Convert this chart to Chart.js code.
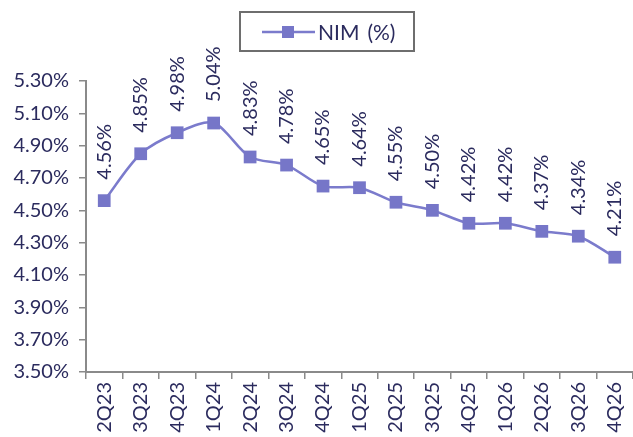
<!DOCTYPE html>
<html>
<head>
<meta charset="utf-8">
<script src="https://cdn.jsdelivr.net/npm/chart.js@4/dist/chart.umd.min.js"></script>
<style>
html,body{margin:0;padding:0;background:#fff;}
#wrap{width:633px;height:437px;position:relative;}
</style>
</head>
<body>
<div id="wrap"><canvas id="c" width="633" height="437"></canvas></div>
<script>
const categories = ['2Q23','3Q23','4Q23','1Q24','2Q24','3Q24','4Q24','1Q25','2Q25','3Q25','4Q25','1Q26','2Q26','3Q26','4Q26'];
const nimValues = [4.56, 4.85, 4.98, 5.04, 4.83, 4.78, 4.65, 4.64, 4.55, 4.50, 4.42, 4.42, 4.37, 4.34, 4.21];
const seriesLabel = 'NIM (%)';
const yMin = 3.5, yMax = 5.3, yStep = 0.2;

const LINE = '#7b7bcc';
const MARK = '#7676c8';
const TEXT = '#2b2b5e';
const AXIS = '#8a8a8a';
const FONT = 'Lato, "Open Sans", sans-serif';

const dataLabels = {
  id: 'dataLabels',
  afterDatasetsDraw(chart) {
    const ctx = chart.ctx;
    const meta = chart.getDatasetMeta(0);
    const vals = chart.data.datasets[0].data;
    ctx.save();
    ctx.fillStyle = TEXT;
    ctx.font = '20px ' + FONT;
    ctx.textAlign = 'left';
    ctx.textBaseline = 'middle';
    meta.data.forEach((pt, i) => {
      ctx.save();
      ctx.translate(pt.x, pt.y - 21);
      ctx.rotate(-Math.PI / 2);
      ctx.fillText(vals[i].toFixed(2) + '%', 0, 0);
      ctx.restore();
    });
    ctx.restore();
  }
};

const legendBox = {
  id: 'legendBox',
  afterDraw(chart) {
    const ctx = chart.ctx;
    ctx.save();
    ctx.strokeStyle = '#6e6e6e';
    ctx.lineWidth = 2;
    ctx.strokeRect(240, 12, 174, 39);
    ctx.strokeStyle = LINE;
    ctx.lineWidth = 2.5;
    ctx.beginPath();
    ctx.moveTo(262, 32);
    ctx.lineTo(315, 32);
    ctx.stroke();
    ctx.fillStyle = MARK;
    ctx.fillRect(282, 26, 12, 12);
    ctx.fillStyle = TEXT;
    ctx.font = '21px ' + FONT;
    ctx.textAlign = 'left';
    ctx.textBaseline = 'middle';
    ctx.fillText(chart.data.datasets[0].label.replace(' ', '\u2009 '), 318, 33);
    ctx.restore();
  }
};

new Chart(document.getElementById('c'), {
  type: 'line',
  data: {
    labels: categories,
    datasets: [{
      label: seriesLabel,
      data: nimValues,
      borderColor: LINE,
      backgroundColor: MARK,
      borderWidth: 2.5,
      pointStyle: 'rect',
      pointRadius: 9,
      pointHoverRadius: 9,
      pointBorderWidth: 0,
      pointBackgroundColor: MARK,
      tension: 0.3,
      fill: false
    }]
  },
  options: {
    responsive: false,
    animation: false,
    devicePixelRatio: 1,
    layout: { autoPadding: false, padding: { top: 81, right: 0, left: 0, bottom: 0 } },
    plugins: { legend: { display: false }, tooltip: { enabled: false } },
    scales: {
      x: {
        offset: true,
        grid: { offset: true, drawOnChartArea: false, color: AXIS, tickColor: AXIS, tickLength: 7, lineWidth: 1.5 },
        border: { color: AXIS, width: 2 },
        ticks: { color: TEXT, font: { size: 20, family: FONT }, minRotation: 90, maxRotation: 90, padding: 3, autoSkip: false },
        afterFit(s) { s.height = 65; s.paddingLeft = 0; s.paddingRight = 0; }
      },
      y: {
        min: yMin, max: yMax,
        grid: { drawOnChartArea: false, color: AXIS, tickColor: AXIS, tickLength: 7, lineWidth: 1.5 },
        border: { color: AXIS, width: 2 },
        ticks: { stepSize: yStep, color: TEXT, font: { size: 20, family: FONT }, padding: 10,
          callback: v => v.toFixed(2) + '%' },
        afterFit(s) { s.width = 86; }
      }
    }
  },
  plugins: [dataLabels, legendBox]
});
</script>
</body>
</html>
